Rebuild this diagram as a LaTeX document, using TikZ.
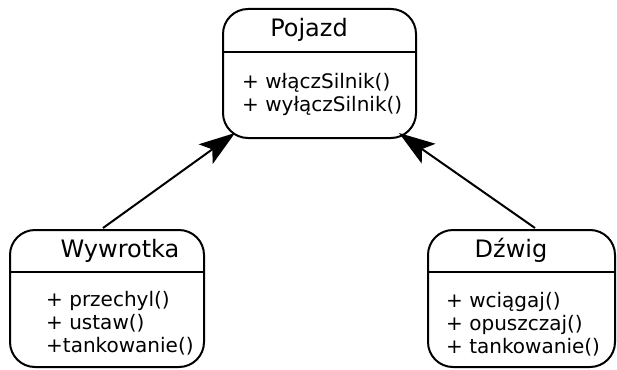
\documentclass[tikz,border=0pt]{standalone}
\usepackage{fontspec}
\setmainfont{DejaVu Sans}
\usetikzlibrary{arrows.meta}
\begin{document}
\begin{tikzpicture}[x=1pt,y=-1pt,
  classbox/.style={draw,line width=2pt,rounded corners=25pt,anchor=north west,inner sep=0pt},
  divider/.style={line width=1.8pt},
  titletext/.style={font=\fontsize{24}{28}\selectfont,anchor=base,inner sep=0pt},
  methtext/.style={font=\fontsize{20}{23}\selectfont,anchor=base west,inner sep=0pt},
  inh/.style={line width=2pt,-{Stealth[length=36pt,width=24pt,inset=8pt]}}]
\useasboundingbox (0,0) rectangle (617,369);
% Pojazd
\node[classbox,minimum width=193pt,minimum height=129pt] (poj) at (222,8) {};
\draw[divider] (poj.west |- 0,52) -- (poj.east |- 0,52);
\node[titletext] (pojt) at (309,37) {Pojazd};
\node[methtext] (pojm1) at (242,88) {+ włączSilnik()};
\node[methtext] (pojm2) at (242,111) {+ wyłączSilnik()};
% Wywrotka
\node[classbox,minimum width=194pt,minimum height=137pt] (wyw) at (9,229) {};
\draw[divider] (wyw.west |- 0,272) -- (wyw.east |- 0,272);
\node[titletext] (wywt) at (120,257) {Wywrotka};
\node[methtext] (wywm1) at (46,306) {+ przechyl()};
\node[methtext] (wywm2) at (46,329) {+ ustaw()};
\node[methtext] (wywm3) at (46,352) {+tankowanie()};
% Dzwig
\node[classbox,minimum width=187pt,minimum height=137pt] (dzw) at (427,229) {};
\draw[divider] (dzw.west |- 0,272) -- (dzw.east |- 0,272);
\node[titletext] (dzwt) at (511,257) {Dźwig};
\node[methtext] (dzwm1) at (446,307) {+ wciągaj()};
\node[methtext] (dzwm2) at (446,330) {+ opuszczaj()};
\node[methtext] (dzwm3) at (446,353) {+ tankowanie()};
% arrows
\coordinate (t1) at (235,133);
\coordinate (t2) at (399,133);
\coordinate (s1) at (103,228);
\coordinate (s2) at (535,228);
\draw[inh] (s1) -- (t1);
\draw[inh] (s2) -- (t2);
\end{tikzpicture}
\end{document}
